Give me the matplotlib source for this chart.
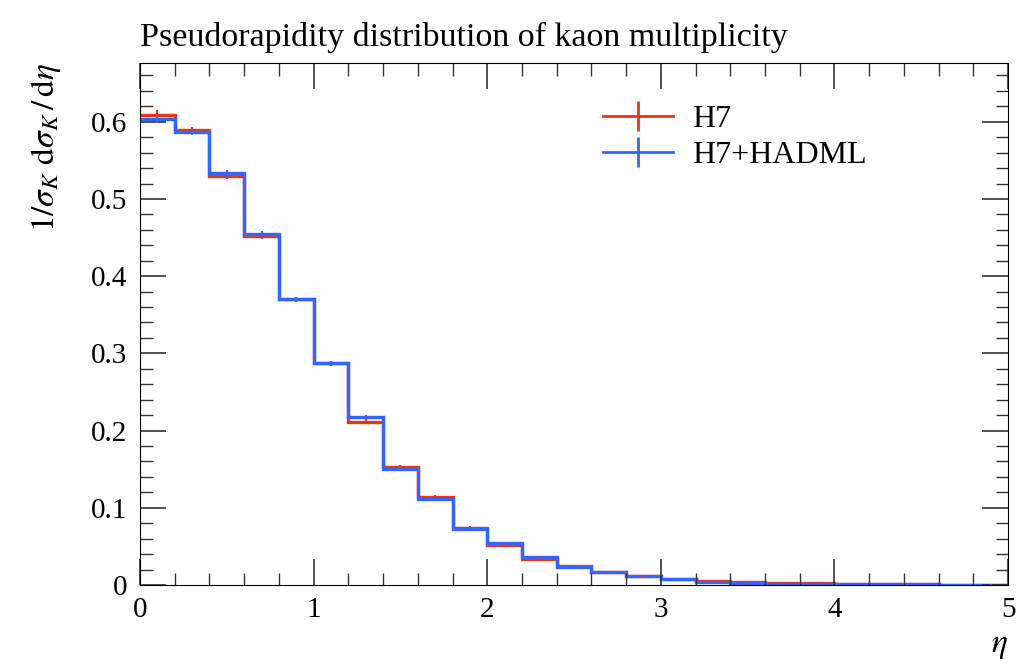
import numpy as np
import matplotlib.pyplot as plt
from matplotlib.lines import Line2D
from matplotlib.ticker import MultipleLocator

plt.rcParams['font.family'] = ['Liberation Serif', 'DejaVu Serif']
plt.rcParams['mathtext.fontset'] = 'stix'

# eta bins, width 0.2
edges = np.linspace(0, 5, 26)

h7 = [0.609, 0.589, 0.530, 0.452, 0.370, 0.287, 0.211, 0.153, 0.114, 0.074,
      0.052, 0.034, 0.025, 0.017, 0.011, 0.0075, 0.005, 0.0035, 0.0027, 0.0026,
      0.001, 0.0009, 0.0008, 0.0006, 0.0005]
h7_err = [0.006, 0.004, 0.004, 0.004, 0.003, 0.003, 0.003, 0.002, 0.002, 0.002,
          0.001, 0.001, 0.001, 0.001, 0.0005, 0.0005, 0.0003, 0.0003, 0.0003, 0.0003,
          0.0002, 0.0002, 0.0002, 0.0002, 0.0002]
hadml = [0.603, 0.587, 0.533, 0.455, 0.370, 0.287, 0.217, 0.150, 0.111, 0.072,
         0.054, 0.036, 0.023, 0.017, 0.012, 0.0075, 0.0045, 0.0028, 0.0014, 0.0013,
         0.001, 0.0009, 0.0008, 0.0006, 0.0005]
hadml_err = [0.005, 0.004, 0.004, 0.004, 0.003, 0.003, 0.003, 0.002, 0.002, 0.002,
             0.001, 0.001, 0.001, 0.001, 0.0005, 0.0005, 0.0003, 0.0003, 0.0003, 0.0003,
             0.0002, 0.0002, 0.0002, 0.0002, 0.0002]

xticks = [0, 1, 2, 3, 4, 5]
yticks = [0, 0.1, 0.2, 0.3, 0.4, 0.5, 0.6]
ytick_labels = ['0', '0.1', '0.2', '0.3', '0.4', '0.5', '0.6']

red = '#EE3311'
blue = '#3366FF'
centers = 0.5 * (edges[:-1] + edges[1:])

fig = plt.figure(figsize=(10.17, 6.64), dpi=100)
ax = fig.add_axes([0.1377, 0.119, 0.8535, 0.786])

for vals, errs, c in [(h7, h7_err, red), (hadml, hadml_err, blue)]:
    ax.stairs(vals, edges, color=c, lw=2.4, baseline=None)
    ax.errorbar(centers, vals, yerr=errs, fmt='none', ecolor=c, elinewidth=1.6, capsize=0)

ax.set_xlim(0, 5)
ax.set_ylim(0, 0.676)
ax.set_xticks(xticks)
ax.set_xticklabels([str(t) for t in xticks])
ax.set_yticks(yticks)
ax.set_yticklabels(ytick_labels)
ax.xaxis.set_minor_locator(MultipleLocator(0.2))
ax.yaxis.set_minor_locator(MultipleLocator(0.02))
ax.tick_params(which='both', direction='in', top=True, right=True, labelsize=21, color='#333333')
ax.tick_params(which='major', length=19, width=1.2, pad=9)
ax.tick_params(which='minor', length=9, width=1.0)

ax.set_title('Pseudorapidity distribution of kaon multiplicity', loc='left', fontsize=24.5, pad=12)
ax.set_xlabel(r'$\eta$', fontsize=24, loc='right', labelpad=5)
ax.set_ylabel(r'$1/\sigma_K\ \mathrm{d}\sigma_K\,/\,\mathrm{d}\eta$', fontsize=24, loc='top', labelpad=20)

handles = [Line2D([], [], color=red, lw=2, marker='|', markersize=22, markeredgewidth=2),
           Line2D([], [], color=blue, lw=2, marker='|', markersize=22, markeredgewidth=2)]
ax.legend(handles, ['H7', 'H7+HADML'], loc='upper left', bbox_to_anchor=(0.50, 0.975),
          frameon=False, fontsize=23, handlelength=2.2, handletextpad=0.6, labelspacing=0.2)

fig.savefig('out.png', dpi=100)
